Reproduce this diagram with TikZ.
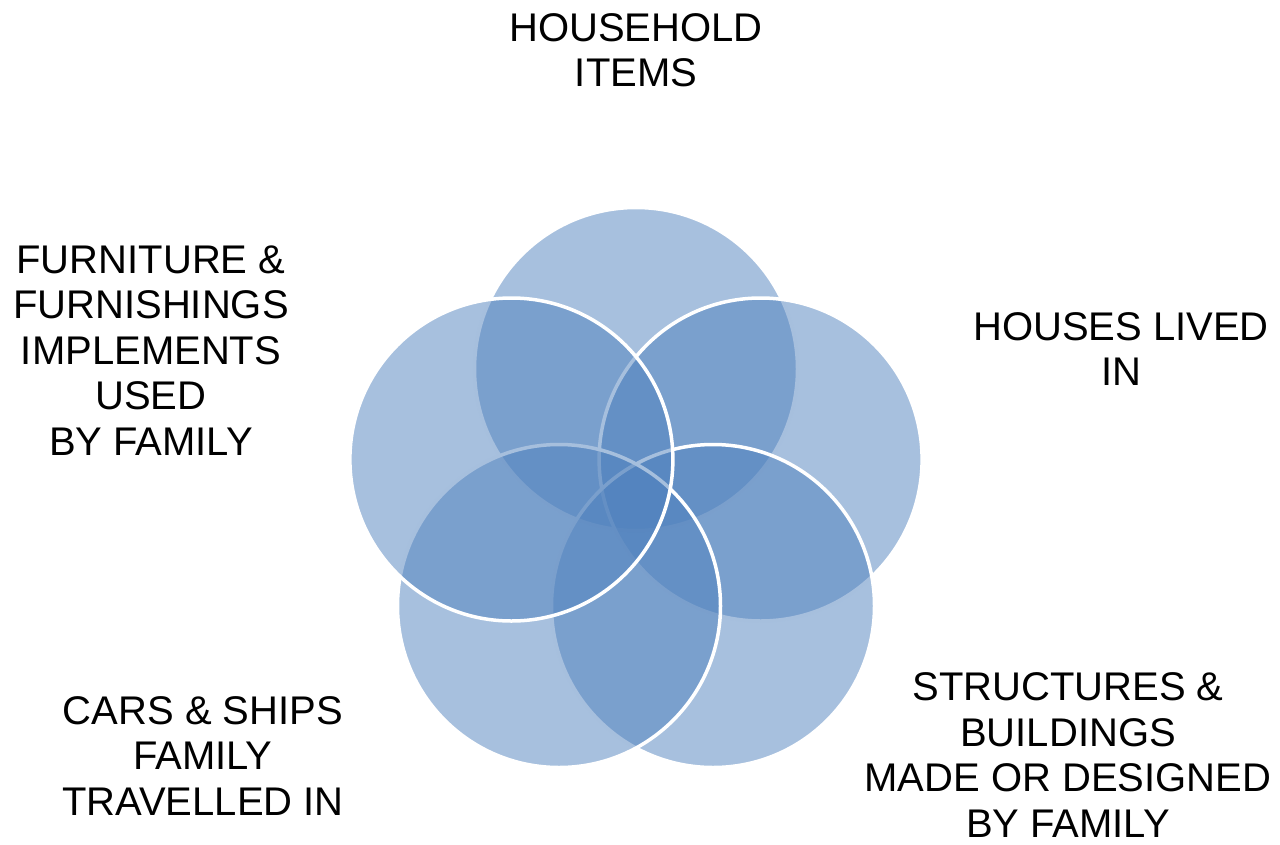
\documentclass[tikz,border=0pt]{standalone}
\usepackage{fontspec}
\setmainfont{Liberation Sans}
\definecolor{vennblue}{HTML}{4F81BD}
\begin{document}
\begin{tikzpicture}[x=1pt,y=-1pt,
  venn/.style={circle, minimum size=323pt, inner sep=0pt, fill=vennblue, fill opacity=0.5, draw=white, draw opacity=1, line width=3.5pt},
  lab/.style={align=center, anchor=base, inner sep=0pt, font=\fontsize{40}{45.5}\selectfont, text=black}]
\useasboundingbox (0,0) rectangle (1280,844);
\node[venn] (top) at (636,369) {};
\node[venn] (right) at (760.6,459.5) {};
\node[venn] (bright) at (713,606) {};
\node[venn] (bleft) at (559,606) {};
\node[venn] (left) at (511.4,459.5) {};
\node[lab] (ltop) at (636,86.5) {HOUSEHOLD\\ITEMS};
\node[lab] (lright) at (1121,385.5) {HOUSES LIVED\\IN};
\node[lab] (lbright) at (1068,837) {STRUCTURES \&\\BUILDINGS\\MADE OR DESIGNED\\BY FAMILY};
\node[lab] (lbleft) at (203,815) {CARS \& SHIPS\\FAMILY\\TRAVELLED IN};
\node[lab] (lleft) at (151,455) {FURNITURE \&\\FURNISHINGS\\IMPLEMENTS\\USED\\BY FAMILY};
\end{tikzpicture}
\end{document}
